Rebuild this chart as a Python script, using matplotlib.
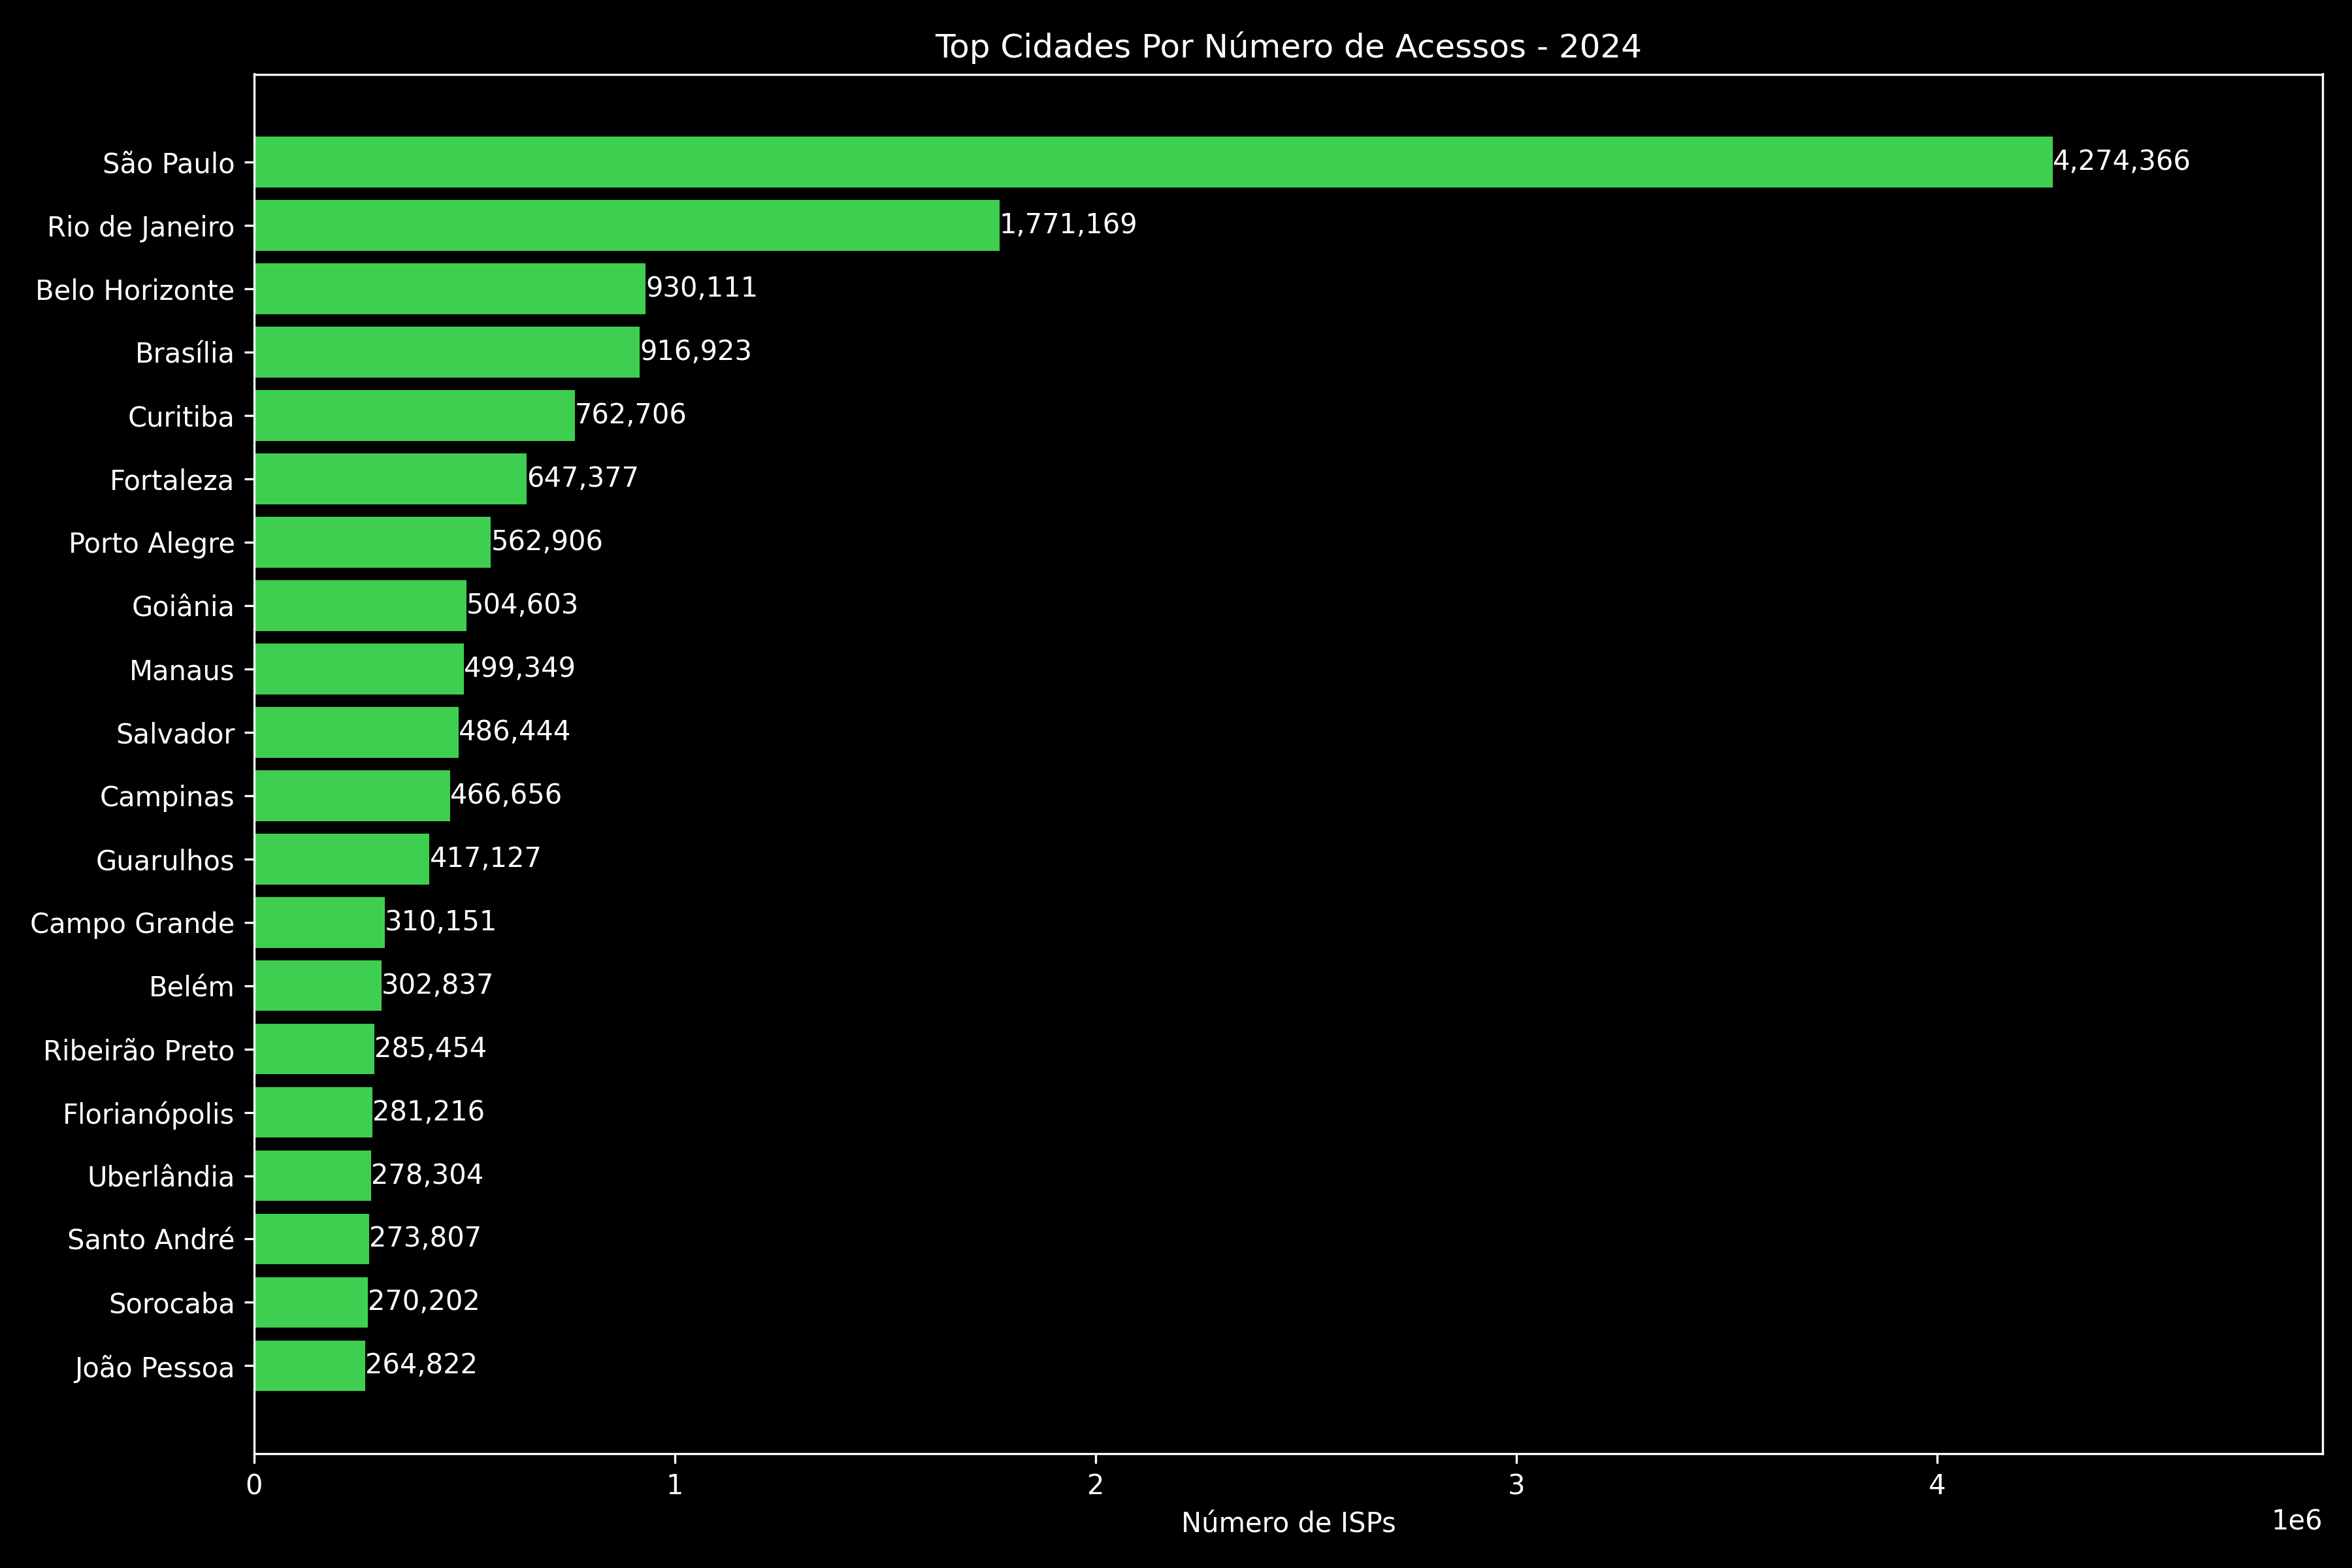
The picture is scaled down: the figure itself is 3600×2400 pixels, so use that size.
import matplotlib
matplotlib.use("Agg")
import matplotlib.pyplot as plt

cidades = ["São Paulo", "Rio de Janeiro", "Belo Horizonte", "Brasília", "Curitiba",
           "Fortaleza", "Porto Alegre", "Goiânia", "Manaus", "Salvador",
           "Campinas", "Guarulhos", "Campo Grande", "Belém", "Ribeirão Preto",
           "Florianópolis", "Uberlândia", "Santo André", "Sorocaba", "João Pessoa"]
acessos = [4274366, 1771169, 930111, 916923, 762706,
           647377, 562906, 504603, 499349, 486444,
           466656, 417127, 310151, 302837, 285454,
           281216, 278304, 273807, 270202, 264822]

plt.style.use("dark_background")
fig, ax = plt.subplots(figsize=(12, 8))

bars = ax.barh(cidades, acessos, color="#3ecf50")
ax.invert_yaxis()

# rotulos com o valor no fim de cada barra
for bar, v in zip(bars, acessos):
    ax.text(bar.get_width(), bar.get_y() + bar.get_height() / 2, f"{v:,}",
            va="center", ha="left", color="white", fontsize=10)

ax.set_xlim(0, max(acessos) * 1.15)
ax.set_title("Top Cidades Por Número de Acessos - 2024")
ax.set_xlabel("Número de ISPs")

plt.tight_layout()
plt.savefig("out.png", dpi=300)
